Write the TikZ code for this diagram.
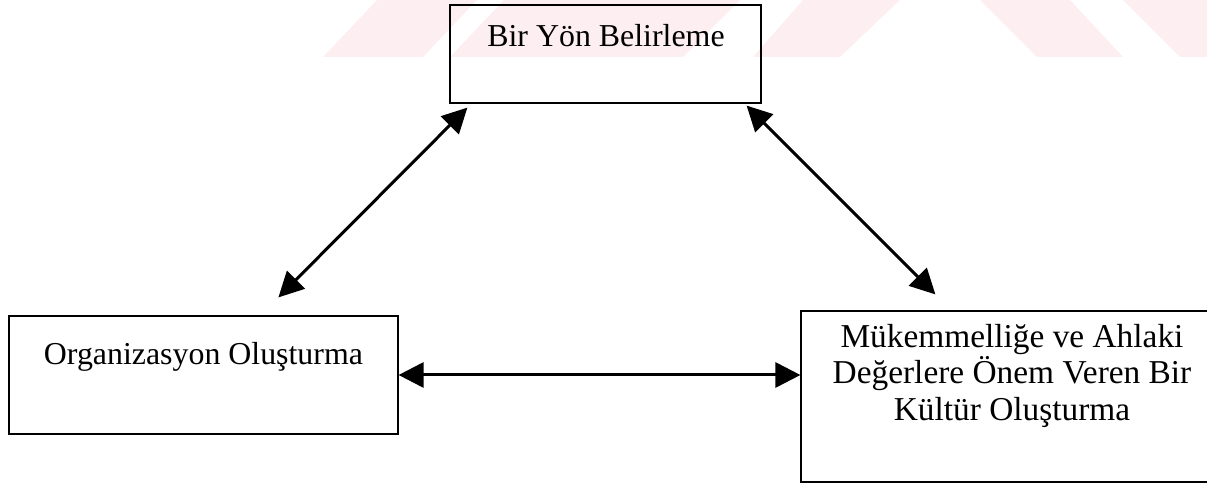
\documentclass[tikz,border=0pt]{standalone}
\usepackage{fontspec}
\setmainfont{Liberation Serif}
\usetikzlibrary{arrows.meta,calc}
\definecolor{filigran}{RGB}{253,238,241}
\begin{document}
\begin{tikzpicture}[x=1bp,y=-1bp,
  kutu/.style={draw,line width=1.2bp,inner sep=0pt},
  yazi/.style={font=\fontsize{32}{38}\selectfont,inner sep=0pt,anchor=base,align=center},
  ok/.style={line width=3bp,{Triangle[length=25bp,width=25bp]}-{Triangle[length=25bp,width=25bp]}}]
\useasboundingbox(0,0)rectangle(1207,484);
\clip(0,0)rectangle(1207,484);
% filigran
\foreach \a/\b/\c/\d in {323/423/477/377,450/683/740/504,753/840/900/803}
  \fill[filigran](\a,57)--(\b,57)--(\c,0)--(\d,0)--cycle;
\foreach \a/\b/\c/\d in {980/1070/1123/1037,1123/1230/1230/1180}
  \fill[filigran](\a,0)--(\b,0)--(\c,57)--(\d,57)--cycle;
% kutular
\node[kutu,minimum width=311bp,minimum height=98bp](yon)at(605.5,54){};
\node[kutu,minimum width=389bp,minimum height=118bp](org)at(203.5,375){};
\node[kutu,minimum width=421bp,minimum height=171bp](kul)at(1011.5,396.5){};
\node[yazi](yonyazi)at(606,47){Bir Yön Belirleme};
\node[yazi](orgyazi)at(203.5,365){Organizasyon Oluşturma};
% son satirin tabani
\node[yazi,font=\fontsize{33.5}{36.5}\selectfont](kulyazi)at(1012,420){Mükemmelliğe ve Ahlaki\\Değerlere Önem Veren Bir\\Kültür Oluşturma};
% oklar
\draw[ok]($(yon.south west)+(18,4)$)--($(org.north west)+(270,-18)$);
\draw[ok]($(yon.south east)+(-15,2)$)--($(kul.north west)+(135,-16)$);
\draw[ok](org.east)--(org.east-|kul.west);
\end{tikzpicture}
\end{document}
